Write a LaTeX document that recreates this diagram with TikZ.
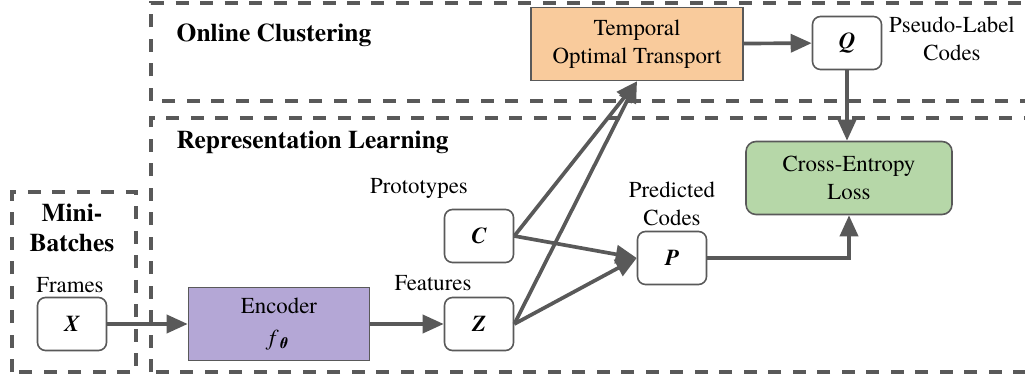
\documentclass[tikz,border=0pt]{standalone}
\usepackage{fontspec}
\setmainfont{texgyretermes}[Extension=.otf, UprightFont=*-regular, BoldFont=*-bold,
    ItalicFont=*-italic, BoldItalicFont=*-bolditalic]
\usepackage{tikz}
\usetikzlibrary{arrows.meta,positioning}

\definecolor{linegray}{HTML}{595959}
\definecolor{encfill}{HTML}{B4A7D6}
\definecolor{otfill}{HTML}{F9CB9C}
\definecolor{lossfill}{HTML}{B6D7A8}

\newcommand{\vect}[1]{\textbf{\textit{#1}}}

\begin{document}
\begin{tikzpicture}[>={Triangle[length=0.42cm,width=0.36cm]},
    font=\fontsize{13}{16}\selectfont,
    var/.style={draw=linegray, line width=0.9pt, rounded corners=0.16cm, fill=white,
                minimum width=1.38cm, minimum height=1.06cm, inner sep=0pt},
    block/.style={draw=linegray, line width=0.9pt, minimum height=1.46cm, align=center},
    group/.style={draw=linegray, line width=2.2pt, dash pattern=on 0.26cm off 0.23cm},
    title/.style={font=\fontsize{14.5}{17}\selectfont\bfseries, align=center},
    conn/.style={draw=linegray, line width=2.1pt, ->}]

    \useasboundingbox (0,0) rectangle (20.5,7.62);
    \clip (0,0) rectangle (20.5,7.62);

    % dashed groups
    \draw[group] (0.24,0.18) rectangle (2.72,3.78);
    \draw[group] (3.02,5.60) rectangle (20.9,7.56);
    \draw[group] (3.02,0.18) rectangle (20.9,5.26);

    \node[title]             at (1.44,3.06) {Mini-\\Batches};
    \node[title,anchor=west] at (3.41,6.92) {Online Clustering};
    \node[title,anchor=west] at (3.41,4.78) {Representation Learning};

    % nodes
    \node[var] (x) at (1.44,1.14) {\vect{X}};
    \node[block, fill=encfill, minimum width=3.62cm] (enc) at (5.58,1.14)
        {Encoder\\[2pt]\textit{f}\textsubscript{\vect{θ}}};
    \node[var] (z) at (9.58,1.14) {\vect{Z}};
    \node[var] (c) at (9.58,2.90) {\vect{C}};
    \node[var] (p) at (13.44,2.46) {\vect{P}};
    \node[block, fill=otfill, minimum width=4.24cm] (tot) at (12.74,6.74)
        {Temporal\\Optimal Transport};
    \node[var] (q) at (16.94,6.76) {\vect{Q}};
    \node[block, fill=lossfill, rounded corners=0.2cm, minimum width=4.12cm] (loss) at (16.98,4.06)
        {Cross-Entropy\\Loss};

    % labels
    \node (frames)    at (1.40,1.92)  {Frames};
    \node (features)  at (8.66,1.96)  {Features};
    \node (protos)    at (8.38,3.86)  {Prototypes};
    \node[align=center] (predicted) at (13.44,3.55) {Predicted\\Codes};
    \node[align=center] (pseudo)    at (19.04,6.84) {Pseudo-Label\\Codes};

    % connectors
    \draw[conn] (x) -- (enc);
    \draw[conn] (enc) -- (z);
    \draw[conn] (z.east) -- (tot.south);
    \draw[conn] (c.east) -- (tot.south);
    \draw[conn] (c.east) -- (p.west);
    \draw[conn] (z.east) -- (p.west);
    \draw[conn] (p) -| (loss);
    \draw[conn] (tot) -- (q);
    \draw[conn] (q) -- (q |- loss.north);
\end{tikzpicture}
\end{document}
